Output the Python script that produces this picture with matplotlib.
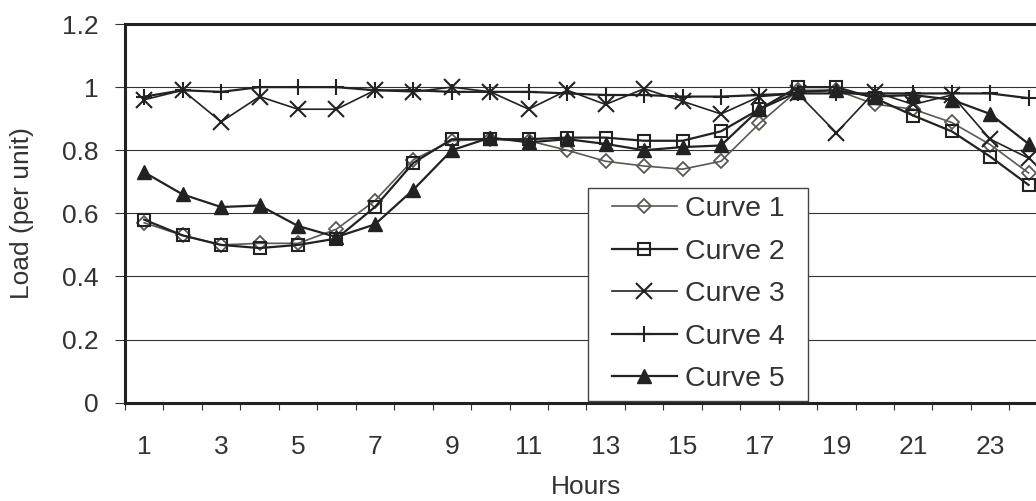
import matplotlib.pyplot as plt
from matplotlib.ticker import FixedLocator
from matplotlib.legend_handler import HandlerLine2D
from matplotlib.lines import Line2D

plt.rcParams['font.family'] = ['Liberation Sans', 'DejaVu Sans']

hours = list(range(1, 25))
hour_labels = [str(h) for h in range(1, 24, 2)]
curve_names = ['Curve 1', 'Curve 2', 'Curve 3', 'Curve 4', 'Curve 5']

curve1 = [0.57, 0.53, 0.50, 0.505, 0.505, 0.55, 0.64, 0.77, 0.83, 0.835, 0.83, 0.80,
          0.765, 0.75, 0.74, 0.765, 0.885, 0.99, 0.99, 0.946, 0.93, 0.888, 0.818, 0.728]
curve2 = [0.58, 0.53, 0.50, 0.49, 0.50, 0.52, 0.62, 0.76, 0.835, 0.835, 0.835, 0.84,
          0.84, 0.83, 0.83, 0.86, 0.93, 1.0, 1.0, 0.965, 0.91, 0.86, 0.78, 0.69]
curve3 = [0.96, 0.99, 0.89, 0.97, 0.93, 0.93, 0.99, 0.985, 1.0, 0.985, 0.93, 0.99,
          0.945, 0.995, 0.955, 0.915, 0.97, 0.98, 0.855, 0.985, 0.945, 0.975, 0.835, 0.775]
curve4 = [0.97, 0.99, 0.985, 1.0, 1.0, 1.0, 0.99, 0.99, 0.985, 0.985, 0.985, 0.98,
          0.975, 0.975, 0.97, 0.97, 0.975, 0.98, 0.98, 0.98, 0.98, 0.98, 0.98, 0.965]
curve5 = [0.73, 0.66, 0.62, 0.625, 0.56, 0.525, 0.565, 0.675, 0.80, 0.84, 0.825, 0.835,
          0.82, 0.80, 0.81, 0.815, 0.93, 0.985, 0.99, 0.97, 0.975, 0.96, 0.915, 0.82]

dark = '#222222'
grey = '#5a5a52'

fig = plt.figure(figsize=(10.36, 5.01), dpi=100)
ax = fig.add_axes([125 / 1036, 98.3 / 501, 922.8 / 1036, 378.7 / 501])

ax.plot(hours, curve1, color=grey, lw=1.2, marker='D', ms=7, mfc='none', mec=grey, mew=1.3,
        label=curve_names[0])
ax.plot(hours, curve2, color=dark, lw=1.6, marker='s', ms=9, mfc='none', mec=dark, mew=1.5,
        label=curve_names[1])
ax.plot(hours, curve3, color=dark, lw=1.2, marker='x', ms=12, mec=dark, mew=1.5,
        label=curve_names[2])
ax.plot(hours, curve4, color=dark, lw=1.6, marker='+', ms=12, mec=dark, mew=1.5,
        label=curve_names[3])
ax.plot(hours, curve5, color=dark, lw=1.6, marker='^', ms=10, mfc=dark, mec=dark,
        label=curve_names[4])

ax.set_xlim(0.5, 24.5)
ax.set_ylim(0, 1.2)

ax.set_yticks([0, 0.2, 0.4, 0.6, 0.8, 1.0, 1.2])
ax.set_yticklabels(['0', '0.2', '0.4', '0.6', '0.8', '1', '1.2'])
ax.tick_params(axis='y', direction='out', length=7, width=0.8, pad=12,
               labelsize=19, labelcolor='#333333', color='#333333')

ax.set_xticks(range(1, 24, 2))
ax.set_xticklabels(hour_labels)
ax.xaxis.set_minor_locator(FixedLocator([h + 0.5 for h in range(0, 25)]))
ax.tick_params(axis='x', which='major', length=0, pad=23, labelsize=19, labelcolor='#333333')
ax.tick_params(axis='x', which='minor', direction='out', length=5, width=0.8, color='#333333')

ax.grid(axis='y', color='#333333', lw=0.8)
ax.set_axisbelow(True)

for side in ['left', 'bottom', 'top', 'right']:
    ax.spines[side].set_linewidth(2.2)
    ax.spines[side].set_color(dark)

ax.set_ylabel('Load (per unit)', fontsize=19, color='#333333', labelpad=20)
ax.set_xlabel('Hours', fontsize=19, color='#333333', labelpad=12)

leg = ax.legend(loc='lower left', bbox_to_anchor=(588 / 1036, 100 / 501, 220 / 1036, 218 / 501),
                bbox_transform=fig.transFigure, mode='expand', borderaxespad=0,
                fontsize=20.5, handlelength=2.82, handletextpad=0.28, labelspacing=0.58,
                borderpad=0.3, fancybox=False, framealpha=1, edgecolor='#444444',
                handler_map={Line2D: HandlerLine2D(xpad=0.54)})
leg.get_frame().set_linewidth(1.0)
for t in leg.get_texts():
    t.set_color('#333333')

plt.savefig('out.png', dpi=100)
